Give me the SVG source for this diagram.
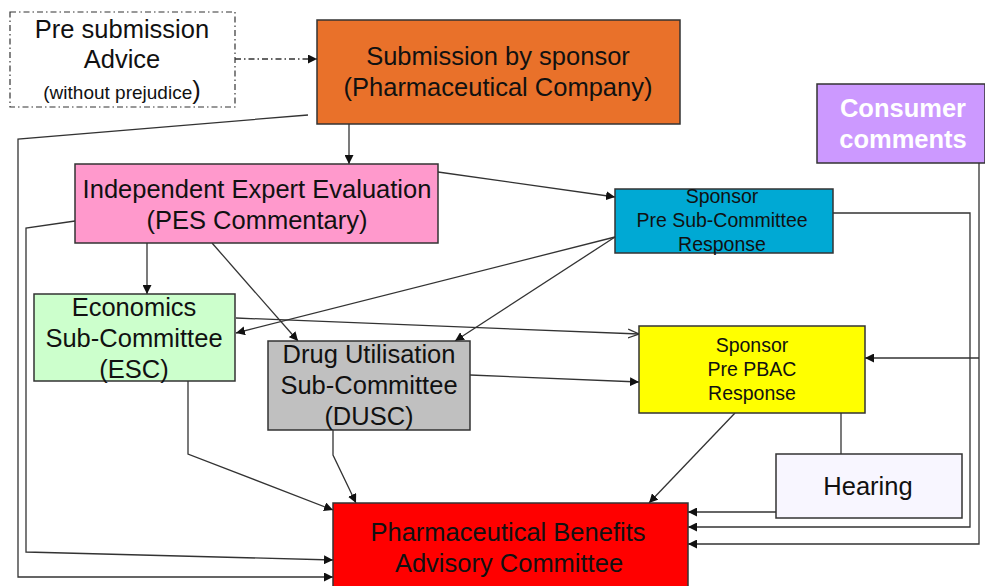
<svg xmlns="http://www.w3.org/2000/svg" width="985" height="586" viewBox="0 0 985 586">
  <style>
    .box { stroke: #333; stroke-width: 1.5; }
    .t { font-family: "Liberation Sans", Arial, sans-serif; font-size: 25.5px; fill: #111; text-anchor: middle; }
    .s { font-size: 19.5px; }
    .w { fill: #fff; font-weight: bold; font-size: 25.5px; }
    .ln { fill: none; stroke: #333; stroke-width: 1.3; }
  </style>
  <defs>
    <marker id="arr" viewBox="0 0 10 10" refX="10" refY="5" markerWidth="9" markerHeight="9" markerUnits="userSpaceOnUse" orient="auto">
      <path d="M0,0 L10,5 L0,10 Z" fill="#111"/>
    </marker>
    <marker id="open" viewBox="0 0 10 10" refX="10" refY="5" markerWidth="11" markerHeight="11" markerUnits="userSpaceOnUse" orient="auto">
      <path d="M0,1 L10,5 L0,9" fill="none" stroke="#333" stroke-width="1.2"/>
    </marker>
  </defs>

  <rect width="985" height="586" fill="#fff"/>

  <g id="connectors">
    <path class="ln" d="M235,59 L317,59" stroke-dasharray="6,3,1.5,3" marker-end="url(#arr)"/>
    <path class="ln" d="M349,124 L349,164" marker-end="url(#arr)"/>
    <path class="ln" d="M308,115 L18,139 L18,577 L333,577" marker-end="url(#arr)"/>
    <path class="ln" d="M75,221 L26,228 L26,552 L333,560" marker-end="url(#arr)"/>
    <path class="ln" d="M147,243 L147,294" marker-end="url(#arr)"/>
    <path class="ln" d="M212,243 L298,341" marker-end="url(#arr)"/>
    <path class="ln" d="M438,172 L615,197" marker-end="url(#arr)"/>
    <path class="ln" d="M615,237 L236,333" marker-end="url(#arr)"/>
    <path class="ln" d="M615,237 L455,341" marker-end="url(#arr)"/>
    <path class="ln" d="M236,318 L639,334" marker-end="url(#open)"/>
    <path class="ln" d="M470,375 L639,382" marker-end="url(#arr)"/>
    <path class="ln" d="M188,381 L188,454 L333,510" marker-end="url(#arr)"/>
    <path class="ln" d="M333,430 L333,455 L356,503" marker-end="url(#arr)"/>
    <path class="ln" d="M735,413 L649,503" marker-end="url(#arr)"/>
    <path class="ln" d="M841,413 L841,454"/>
    <path class="ln" d="M776,512 L688,512" marker-end="url(#arr)"/>
    <path class="ln" d="M833,213 L970,213 L970,527 L688,527" marker-end="url(#arr)"/>
    <path class="ln" d="M979,163 L979,544 L688,544" marker-end="url(#arr)"/>
    <path class="ln" d="M979,358 L865,358" marker-end="url(#arr)"/>
  </g>

  <g id="presubmission">
    <rect x="10" y="12" width="225" height="95" fill="#fff" stroke="#333" stroke-width="1.2" stroke-dasharray="6,3,1.5,3"/>
    <text class="t" x="122" y="38">Pre submission</text>
    <text class="t" x="122" y="68">Advice</text>
    <text class="t" x="122" y="99"><tspan font-size="19">(without prejudice</tspan><tspan font-size="25.5">)</tspan></text>
  </g>

  <g id="submission">
    <rect class="box" x="317" y="20" width="363" height="104" fill="#E9712A"/>
    <text class="t" x="498" y="65">Submission by sponsor</text>
    <text class="t" x="498" y="96">(Pharmaceutical Company)</text>
  </g>

  <g id="consumer">
    <rect class="box" x="817" y="84" width="168" height="79" fill="#CC99FF"/>
    <text class="t w" x="903" y="117">Consumer</text>
    <text class="t w" x="903" y="148">comments</text>
  </g>

  <g id="evaluation">
    <rect class="box" x="75" y="164" width="363" height="79" fill="#FF99CC"/>
    <text class="t" x="257" y="198">Independent Expert Evaluation</text>
    <text class="t" x="257" y="229">(PES Commentary)</text>
  </g>

  <g id="presubcommittee">
    <rect class="box" x="615" y="189" width="218" height="64" fill="#00A9D4"/>
    <text class="t s" x="722" y="203">Sponsor</text>
    <text class="t s" x="722" y="227">Pre Sub-Committee</text>
    <text class="t s" x="722" y="251">Response</text>
  </g>

  <g id="esc">
    <rect class="box" x="34" y="294" width="201" height="87" fill="#CCFFCC"/>
    <text class="t" x="134" y="316">Economics</text>
    <text class="t" x="134" y="347">Sub-Committee</text>
    <text class="t" x="134" y="378">(ESC)</text>
  </g>

  <g id="dusc">
    <rect class="box" x="268" y="341" width="202" height="89" fill="#C0C0C0"/>
    <text class="t" x="369" y="363">Drug Utilisation</text>
    <text class="t" x="369" y="394">Sub-Committee</text>
    <text class="t" x="369" y="425">(DUSC)</text>
  </g>

  <g id="prepbac">
    <rect class="box" x="639" y="326" width="226" height="87" fill="#FFFF00"/>
    <text class="t s" x="752" y="352">Sponsor</text>
    <text class="t s" x="752" y="376">Pre PBAC</text>
    <text class="t s" x="752" y="400">Response</text>
  </g>

  <g id="hearing">
    <rect class="box" x="776" y="454" width="186" height="64" fill="#F8F6FF"/>
    <text class="t" x="868" y="495">Hearing</text>
  </g>

  <g id="pbac">
    <rect class="box" x="333" y="503" width="355" height="90" fill="#FF0000"/>
    <text class="t" x="508" y="541">Pharmaceutical Benefits</text>
    <text class="t" x="509" y="572">Advisory Committee</text>
  </g>
</svg>
